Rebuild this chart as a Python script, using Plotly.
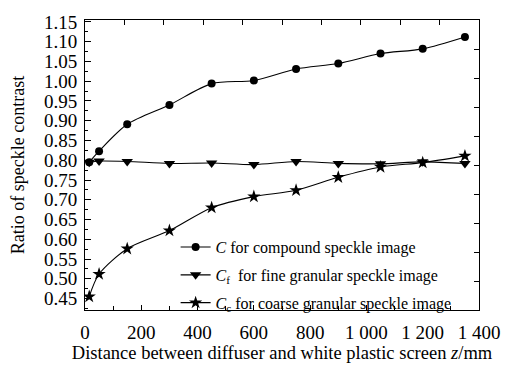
import plotly.graph_objects as go

# Distance between diffuser and screen, z / mm
z_mm = [15, 50, 150, 300, 450, 600, 750, 900, 1050, 1200, 1350]

# Speckle contrast ratios
c_compound = [0.795, 0.823, 0.891, 0.940, 0.994, 1.002, 1.031, 1.045, 1.070, 1.082, 1.112]
c_fine = [0.795, 0.798, 0.797, 0.792, 0.793, 0.789, 0.797, 0.792, 0.791, 0.796, 0.792]
c_coarse = [0.455, 0.512, 0.576, 0.622, 0.680, 0.708, 0.724, 0.757, 0.783, 0.794, 0.811]

x_tick_vals = [0, 200, 400, 600, 800, 1000, 1200, 1400]
x_tick_text = ["0", "200", "400", "600", "800", "1 000", "1 200", "1 400"]

names = [
    "<i>C</i> for compound speckle image",
    "<i>C</i><sub>f</sub>  for fine granular speckle image",
    "<i>C</i><sub>c</sub> for coarse granular speckle image",
]
symbols = ["circle", "triangle-down", "star"]
sizes = [8, 10, 10]

FONT = "Liberation Serif"

fig = go.Figure()
for i, (vals, name, sym, sz) in enumerate(zip([c_compound, c_fine, c_coarse], names, symbols, sizes)):
    fig.add_trace(go.Scatter(
        x=z_mm, y=vals, name=name, mode="lines+markers",
        line=dict(color="black", width=1.1, shape="spline", smoothing=0.8),
        marker=dict(symbol=sym, size=sz, color="black"),
        legendgroup=f"g{i}",
    ))

# invisible trace carrying the mirrored top/right tick axes
fig.add_trace(go.Scatter(x=[0, 10], y=[0, 10], xaxis="x2", yaxis="y2",
                         mode="markers", marker=dict(opacity=0),
                         showlegend=False, hoverinfo="skip"))

axis_common = dict(showline=True, linecolor="black", linewidth=1, mirror=False,
                   showgrid=False, zeroline=False, ticks="inside",
                   tickcolor="black", tickfont=dict(family=FONT, size=19, color="black"))

fig.update_layout(
    width=512, height=372,
    margin=dict(l=85, r=29, t=15, b=54),
    paper_bgcolor="white", plot_bgcolor="white",
    font=dict(family=FONT, size=18, color="black"),
    xaxis=dict(range=[0, 1400], tickvals=x_tick_vals, ticktext=x_tick_text,
               ticklen=5, ticklabelstandoff=5,
               minor=dict(dtick=100, ticks="inside", ticklen=4, tickcolor="black"),
               title=dict(text="Distance between diffuser and white plastic screen <i>z</i>/mm",
                          font=dict(family=FONT, size=18.5), standoff=4),
               **axis_common),
    yaxis=dict(range=[0.421, 1.155], dtick=0.05, tick0=0.45, tickformat=".2f",
               ticklen=6, ticklabelstandoff=3,
               minor=dict(dtick=0.025, ticks="inside", ticklen=3, tickcolor="black"),
               title=dict(text="Ratio of speckle contrast",
                          font=dict(family=FONT, size=18), standoff=14),
               **axis_common),
    xaxis2=dict(overlaying="x", side="top", range=[0, 10], dtick=1,
                showticklabels=False, ticks="inside", ticklen=5, tickcolor="black",
                showline=True, linecolor="black", linewidth=1, showgrid=False, zeroline=False),
    yaxis2=dict(overlaying="y", side="right", range=[0, 10], dtick=1,
                showticklabels=False, ticks="inside", ticklen=5, tickcolor="black",
                showline=True, linecolor="black", linewidth=1, showgrid=False, zeroline=False),
    legend=dict(x=0.23, y=-0.035, xanchor="left", yanchor="bottom",
                bgcolor="rgba(0,0,0,0)", font=dict(family=FONT, size=16),
                tracegroupgap=4, itemwidth=30),
    showlegend=True,
)

fig.write_html("out.html")
